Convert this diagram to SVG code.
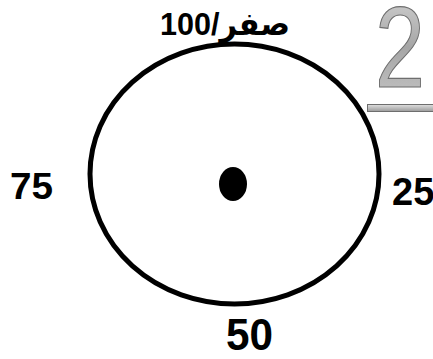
<svg xmlns="http://www.w3.org/2000/svg" width="433" height="359" viewBox="0 0 433 359">
<defs>
<linearGradient id="g2" x1="0" y1="0" x2="0" y2="1">
<stop offset="0" stop-color="#d8d8d8"/>
<stop offset="0.5" stop-color="#a6a6a6"/>
<stop offset="1" stop-color="#c8c8c8"/>
</linearGradient>
<linearGradient id="gb" x1="0" y1="0" x2="0" y2="1">
<stop offset="0" stop-color="#e0e0e0"/>
<stop offset="1" stop-color="#9a9a9a"/>
</linearGradient>
</defs>
<style>
.lbl{font-family:"Liberation Sans","DejaVu Sans",sans-serif;font-weight:bold;fill:#000}
</style>
<rect width="433" height="359" fill="#fff"/>
<g id="dial">
<ellipse cx="234.5" cy="174" rx="144.5" ry="130" fill="none" stroke="#000" stroke-width="5"/>
<ellipse cx="233" cy="184" rx="14" ry="17" fill="#000"/>
</g>
<g id="labels">
<text class="lbl" x="225" y="35" font-size="32" text-anchor="middle" direction="rtl" textLength="130" lengthAdjust="spacingAndGlyphs">صفر/100</text>
<text class="lbl" x="10" y="199" font-size="36" textLength="43" lengthAdjust="spacingAndGlyphs">75</text>
<text class="lbl" x="392" y="205" font-size="38">25</text>
<text class="lbl" x="226" y="350" font-size="45" textLength="47" lengthAdjust="spacingAndGlyphs">50</text>
</g>
<g id="number2">
<text x="375" y="87" font-family="Liberation Sans,sans-serif" font-size="115" fill="url(#g2)" stroke="#6e6e6e" stroke-width="1.2" textLength="50" lengthAdjust="spacingAndGlyphs">2</text>
<rect x="367.5" y="104.5" width="70" height="7" fill="url(#gb)" stroke="#6e6e6e" stroke-width="1"/>
</g>
</svg>
